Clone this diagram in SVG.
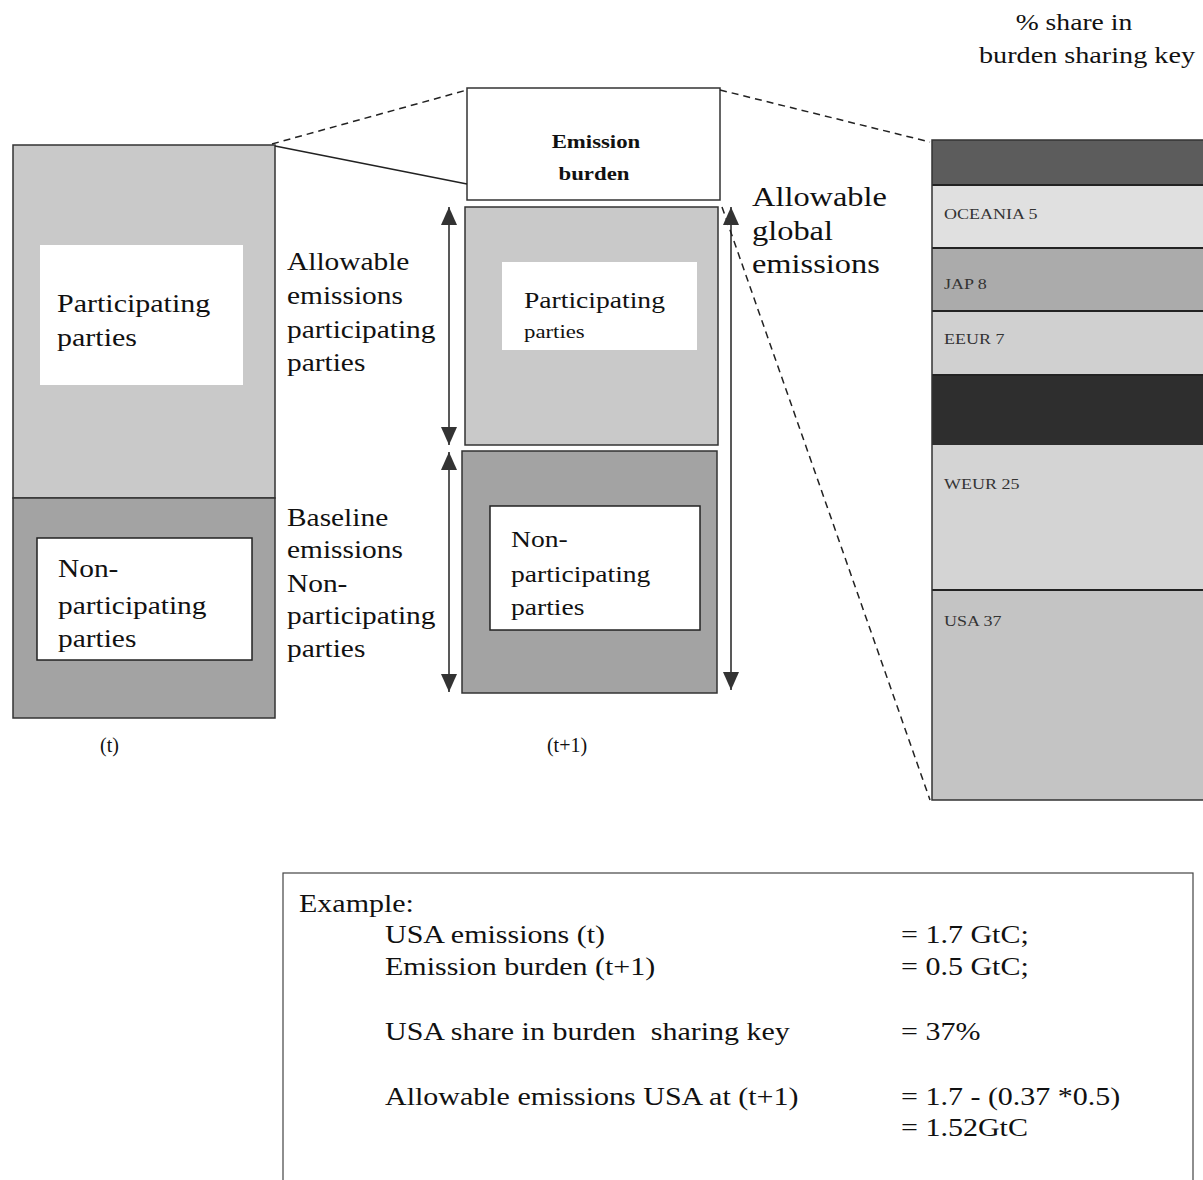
<svg xmlns="http://www.w3.org/2000/svg" width="1203" height="1180" viewBox="0 0 1203 1180">
<style>
text{font-family:"Liberation Serif","Times New Roman",serif;fill:#111;transform-box:fill-box;transform-origin:left center;transform:scaleX(1.2)}
text.mid{transform-origin:center center}
text.ns{transform:none}
.lbl{font-size:24.5px}
.rl{font-size:27px}
.in{font-size:23px}
.band{font-size:15px;fill:#333}
.ex{font-size:25px}
.edge{stroke:#333;stroke-width:1.5}
.conn{stroke:#222;stroke-width:1.5;fill:none}
.dash{stroke-dasharray:7 5}
.light{fill:#c9c9c9}
.dark{fill:#a3a3a3}
.white{fill:#fff;stroke:#222;stroke-width:1.5}
</style>
<defs>
<marker id="ah" viewBox="0 0 18 16" refX="18" refY="8" markerWidth="18" markerHeight="16" markerUnits="userSpaceOnUse" orient="auto-start-reverse">
<path d="M18 8 L0 0 L0 16 Z" fill="#333"/>
</marker>
</defs>
<rect width="1203" height="1180" fill="#fff"/>

<g id="left-participating">
<rect x="13" y="145" width="262" height="353" class="light edge"/>
<rect x="40" y="245" width="203" height="140" fill="#fff"/>
<text x="57" y="312" font-size="25">Participating</text>
<text x="57" y="346" font-size="25">parties</text>
</g>
<g id="left-nonparticipating">
<rect x="13" y="498" width="262" height="220" class="dark edge"/>
<rect x="37" y="538" width="215" height="122" class="white"/>
<text class="lbl" x="58" y="577">Non-</text>
<text class="lbl" x="58" y="614">participating</text>
<text class="lbl" x="58" y="647">parties</text>
</g>
<text class="ns" x="100" y="752" font-size="20">(t)</text>

<g id="emission-burden">
<rect x="467" y="88" width="253" height="112" fill="#fff" stroke="#333" stroke-width="1.5"/>
<text class="mid" x="596" y="148" text-anchor="middle" font-size="19" font-weight="bold">Emission</text>
<text class="mid" x="594" y="180" text-anchor="middle" font-size="19" font-weight="bold">burden</text>
</g>
<g id="mid-participating">
<rect x="465" y="207" width="253" height="238" class="light edge"/>
<rect x="502" y="262" width="195" height="88" fill="#fff"/>
<text class="in" x="524" y="308">Participating</text>
<text x="524" y="338" font-size="19">parties</text>
</g>
<g id="mid-nonparticipating">
<rect x="462" y="451" width="255" height="242" class="dark edge"/>
<rect x="490" y="506" width="210" height="124" class="white"/>
<text class="in" x="511" y="547">Non-</text>
<text class="in" x="511" y="582">participating</text>
<text class="in" x="511" y="615">parties</text>
</g>
<text class="ns" x="567" y="752" text-anchor="middle" font-size="20">(t+1)</text>

<text class="lbl" x="287" y="270">Allowable</text>
<text class="lbl" x="287" y="304">emissions</text>
<text class="lbl" x="287" y="338">participating</text>
<text class="lbl" x="287" y="371">parties</text>
<text class="lbl" x="287" y="526">Baseline</text>
<text class="lbl" x="287" y="558">emissions</text>
<text class="lbl" x="287" y="592">Non-</text>
<text class="lbl" x="287" y="624">participating</text>
<text class="lbl" x="287" y="657">parties</text>
<text class="rl" x="752" y="206">Allowable</text>
<text class="rl" x="752" y="240">global</text>
<text class="rl" x="752" y="273">emissions</text>

<text class="mid" x="1074" y="30" text-anchor="middle" font-size="23">% share in</text>
<text class="mid" x="1087" y="63" text-anchor="middle" font-size="23.5">burden sharing key</text>

<g id="burden-key">
<rect x="932" y="140" width="271" height="45" fill="#5c5c5c"/>
<rect x="932" y="185" width="271" height="63" fill="#e0e0e0"/>
<rect x="932" y="248" width="271" height="63" fill="#ababab"/>
<rect x="932" y="311" width="271" height="64" fill="#d0d0d0"/>
<rect x="932" y="375" width="271" height="70" fill="#2e2e2e"/>
<rect x="932" y="445" width="271" height="145" fill="#d4d4d4"/>
<rect x="932" y="590" width="271" height="210" fill="#c4c4c4"/>
<g stroke="#222" stroke-width="2">
<line x1="932" y1="185" x2="1203" y2="185"/>
<line x1="932" y1="248" x2="1203" y2="248"/>
<line x1="932" y1="311" x2="1203" y2="311"/>
<line x1="932" y1="375" x2="1203" y2="375"/>
<line x1="932" y1="590" x2="1203" y2="590"/>
</g>
<rect x="932" y="140" width="275" height="660" fill="none" stroke="#333" stroke-width="1.5"/>
<text class="band" x="944" y="219">OCEANIA  5</text>
<text class="band" x="944" y="289">JAP 8</text>
<text class="band" x="944" y="344">EEUR 7</text>
<text class="band" x="944" y="489">WEUR 25</text>
<text class="band" x="944" y="626">USA 37</text>
</g>

<g id="connectors">
<line x1="272" y1="144" x2="467" y2="90" class="conn dash"/>
<line x1="275" y1="146" x2="467" y2="184" class="conn"/>
<line x1="720" y1="90" x2="930" y2="142" class="conn dash"/>
<line x1="722" y1="207" x2="930" y2="800" class="conn dash"/>
<line x1="449" y1="207" x2="449" y2="445" class="conn" marker-start="url(#ah)" marker-end="url(#ah)"/>
<line x1="449" y1="452" x2="449" y2="692" class="conn" marker-start="url(#ah)" marker-end="url(#ah)"/>
<line x1="731" y1="207" x2="731" y2="690" class="conn" marker-start="url(#ah)" marker-end="url(#ah)"/>
</g>

<g id="example">
<rect x="283" y="873" width="910" height="330" fill="none" stroke="#444" stroke-width="1.2"/>
<text class="ex" x="299" y="912">Example:</text>
<text class="ex" x="385" y="943">USA emissions (t)</text>
<text class="ex" x="385" y="975">Emission burden (t+1)</text>
<text class="ex" x="385" y="1040" xml:space="preserve">USA share in burden  sharing key</text>
<text class="ex" x="385" y="1105">Allowable emissions USA at (t+1)</text>
<text class="ex" x="901" y="943">= 1.7 GtC;</text>
<text class="ex" x="901" y="975">= 0.5 GtC;</text>
<text class="ex" x="901" y="1040">= 37%</text>
<text class="ex" x="901" y="1105">= 1.7 - (0.37 *0.5)</text>
<text class="ex" x="901" y="1136">= 1.52GtC</text>
</g>
</svg>
